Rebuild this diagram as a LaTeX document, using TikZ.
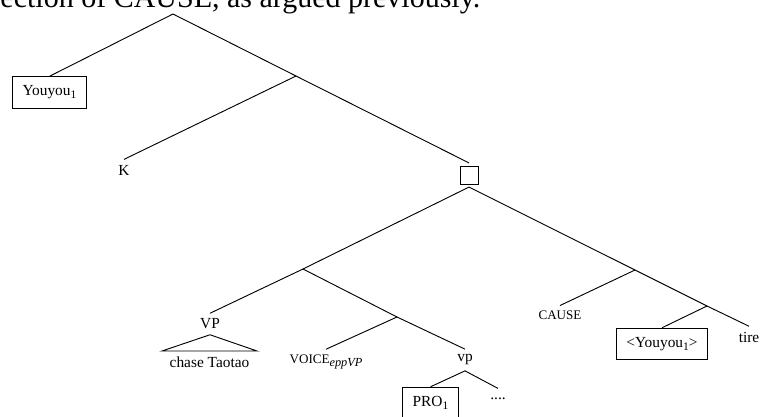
\documentclass[tikz,border=0pt]{standalone}
\usepackage{fontspec}
\setmainfont{Liberation Serif}
\newcommand{\scapfont}[1]{{\fontsize{8.5}{10}\selectfont #1}}
\newcommand{\lowsub}[2]{\raisebox{-2pt}{\fontsize{#1}{9}\selectfont #2}}

\begin{document}
\begin{tikzpicture}[x=0.65pt,y=-0.65pt,line width=0.6pt,
  box/.style={draw, inner xsep=6.5pt, inner ysep=5pt, minimum height=20.5pt},
  sqbox/.style={draw, minimum size=11.7pt, inner sep=0pt, outer sep=2pt}]

\useasboundingbox (0,0) rectangle (764,416);

\node [anchor=base west, inner sep=0pt, font=\fontsize{19.5}{22}\selectfont] (prev) at (0,7) {ection of CAUSE, as argued previously.};

\coordinate (root) at (173,14);
\coordinate (n1) at (296,76);
\coordinate (n2) at (303,269);
\coordinate (n3) at (635,270);
\coordinate (n4) at (397,317);
\coordinate (n5) at (707,306);

\node [box] (you1) at (49.5,92.5) {Youyou\lowsub{7.5}{1}};
\node (K) at (124,170) {K};
\node [sqbox] (sq) at (469,175) {};

\node (VP) at (210,324) {VP};
\node [anchor=north, inner xsep=4.7pt] (ct) at (209.5,351) {chase Taotao};
\node (voice) at (326,362) {\scapfont{VOICE}\lowsub{8}{\textit{eppVP}}};
\node (vp) at (465,360) {vp};
\node [box] (pro) at (430.5,403) {PRO\lowsub{7.5}{1}};
\node [inner ysep=6pt] (dots) at (498,399) {....};

\node (cause) at (560,315.5) {\scapfont{CAUSE}};
\node [box] (you2) at (662,344) {<Youyou\lowsub{7.5}{1}>};
\node (tire) at (749,337) {tire};

\draw (root) -- (you1.north);
\draw (root) -- (n1) -- (sq.north);
\draw (n1) -- (K.north);

\draw (sq.south) -- (n2) -- (VP.north);
\draw (n2) -- (n4) -- (vp.north);
\draw (n4) -- (voice.north);
\draw (ct.north west) -- (VP.south) -- (ct.north east) -- cycle;
\draw (vp.south) -- (pro.north);
\draw (vp.south) -- (dots.north);

\draw (sq.south) -- (n3) -- (n5) -- (tire.north);
\draw (n3) -- (cause.north);
\draw (n5) -- (you2.north);

\end{tikzpicture}
\end{document}
